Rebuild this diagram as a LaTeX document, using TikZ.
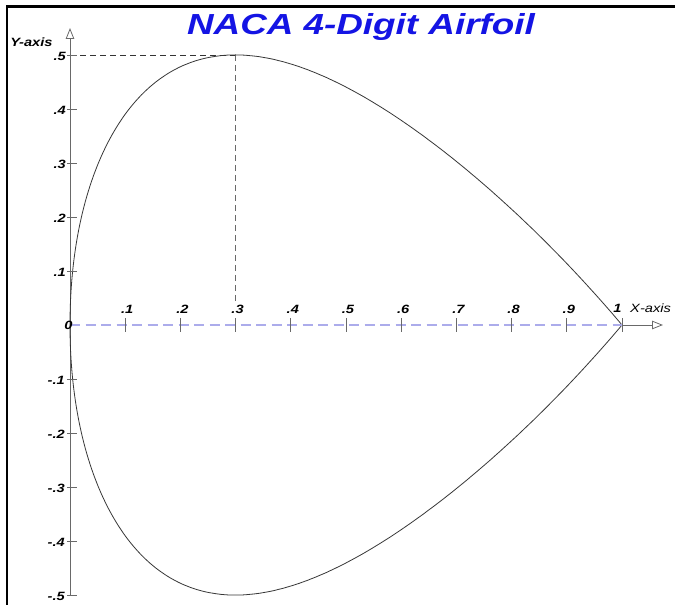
\documentclass[tikz,border=0pt]{standalone}
\usepackage{fontspec}
\setmainfont{Liberation Sans}
\usetikzlibrary{arrows.meta}
\definecolor{titleblue}{RGB}{20,20,228}
\definecolor{axisgray}{RGB}{105,105,105}
\definecolor{lav}{RGB}{172,172,235}
\definecolor{curvegray}{RGB}{55,55,55}
\begin{document}
\begin{tikzpicture}[x=1pt,y=1pt,
  lbl/.style={font=\fontsize{12}{12}\selectfont\bfseries\itshape, xscale=1.22, inner sep=0pt},
  axlbl/.style={font=\fontsize{12}{12}\selectfont\itshape, xscale=1.22, inner sep=0pt},
  titlestyle/.style={font=\fontsize{29}{30}\selectfont\bfseries\itshape, text=titleblue, xscale=1.27, inner sep=0pt},
  axisline/.style={draw=axisgray, line width=0.8pt},
  tickline/.style={draw=axisgray, line width=0.8pt},
  curveline/.style={draw=curvegray, line width=0.8pt},
  opentip/.style={-{Triangle[open,length=11pt,width=8.5pt]}},
  frameline/.style={draw=black, line width=2.5pt}]
\useasboundingbox (0,0) rectangle (675,605);
\fill[white] (0,0) rectangle (675,605);
% frame (top and left only)
\draw[frameline] (6.75,0) -- (6.75,598.25) -- (675,598.25);
% title
\node[titlestyle, anchor=base] (title) at (361,570) {NACA 4-Digit Airfoil};
% Y-axis label
\node[lbl] (ylabel) at (31.5,563) {Y-axis};
\begin{scope}[shift={(70,280)}, x=552pt, y=540pt]
  \coordinate (O) at (0,0);
  \coordinate (XE) at (1,0);
  \coordinate (YB) at (0,-0.5);
  \coordinate (YT) at (0,0.55);
  \coordinate (P) at (0.3,0.5);
  \coordinate (PY) at (0,0.5);
  \coordinate (PX) at (0.3,0.04);
  % dashed x-axis
  \draw[lav, line width=1.4pt, dash pattern=on 10pt off 5.5pt] (O) -- (XE);
  % solid x-axis end with arrow
  \draw[axisline, opentip] (XE) -- ++(41pt,0) coordinate (XT);
  % y-axis
  \draw[axisline, opentip] (YB) -- (YT);
  % guide dashed lines
  \draw[black!80, line width=0.8pt, dash pattern=on 6pt off 4pt] (PY) -- (P);
  \draw[axisgray, line width=0.8pt, dash pattern=on 6pt off 4pt] (P) -- (PX);
  % airfoil
  \draw[curveline] plot[domain=0:1, samples=240, variable=\s, smooth]
    ({\s*\s}, {5*(0.2969*\s - 0.126*\s*\s - 0.3516*\s^4 + 0.2843*\s^6 - 0.1036*\s^8)});
  \draw[curveline] plot[domain=0:1, samples=240, variable=\s, smooth]
    ({\s*\s}, {-5*(0.2969*\s - 0.126*\s*\s - 0.3516*\s^4 + 0.2843*\s^6 - 0.1036*\s^8)});
  % x ticks and labels
  \foreach \i in {1,...,9} {
    \draw[tickline] (\i/10,0) ++(0,-7pt) -- ++(0,14pt);
    \node[lbl] (xl\i) at ([xshift=2pt,yshift=16pt]\i/10,0) {.\i};
  }
  \draw[tickline] (1,0) ++(0,-7pt) -- ++(0,14pt);
  \node[lbl] (xl10) at ([xshift=-4.5pt,yshift=17pt]1,0) {1};
  \node[axlbl, anchor=west] (xlabel) at ([xshift=8pt,yshift=17pt]1,0) {X-axis};
  % y ticks and labels
  \foreach \i in {1,...,5} {
    \draw[tickline] (0,\i/10) ++(-3pt,0) -- ++(10pt,0);
    \node[lbl, anchor=east] (yl\i) at ([xshift=-4pt,yshift=-1.5pt]0,\i/10) {.\i};
    \draw[tickline] (0,-\i/10) ++(-3pt,0) -- ++(10pt,0);
    \node[lbl, anchor=east] (ylm\i) at ([xshift=-5pt,yshift=-1.5pt]0,-\i/10) {-.\i};
  }
  \node[lbl] (zero) at ([xshift=-1.5pt]O) {0};
\end{scope}
\end{tikzpicture}
\end{document}
